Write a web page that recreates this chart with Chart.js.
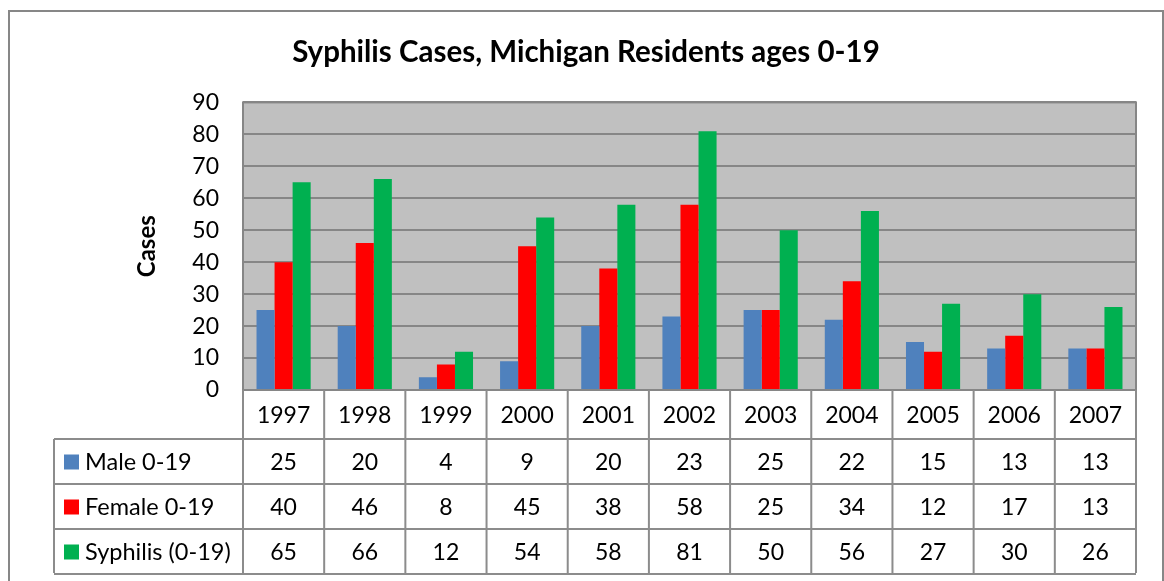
<!DOCTYPE html>
<html><head><meta charset="utf-8">
<script src="https://cdn.jsdelivr.net/npm/chart.js@4"></script>
<style>html,body{margin:0;padding:0;background:#fff}#wrap{width:1164px;height:581px;position:relative}</style>
</head><body><div id="wrap"><canvas id="c" width="1164" height="581"></canvas></div>
<script>
const categories = ['1997','1998','1999','2000','2001','2002','2003','2004','2005','2006','2007'];
const male = [25,20,4,9,20,23,25,22,15,13,13];
const female = [40,46,8,45,38,58,25,34,12,17,13];
const syphilis = [65,66,12,54,58,81,50,56,27,30,26];
const seriesNames = ['Male 0-19','Female 0-19','Syphilis (0-19)'];
const seriesColors = ['#4F81BD','#FF0000','#00B050'];
const yTicks = [0,10,20,30,40,50,60,70,80,90];
const FONT = 'Lato, "Open Sans", sans-serif';

const frame = {
  id:'frame',
  beforeDraw(chart){
    const {ctx, chartArea:a} = chart;
    ctx.save();
    ctx.fillStyle='#fff'; ctx.fillRect(0,0,chart.width,chart.height);
    ctx.strokeStyle='#878787'; ctx.lineWidth=2;
    ctx.strokeRect(9,11,1154,600);
    ctx.fillStyle='#C0C0C0';
    ctx.fillRect(a.left,a.top,a.right-a.left,a.bottom-a.top);
    ctx.restore();
  },
  afterDatasetsDraw(chart){
    const {ctx, chartArea:a, scales:{x}} = chart;
    ctx.save();
    ctx.strokeStyle='#868686'; ctx.lineWidth=2;
    ctx.strokeRect(a.left,a.top,a.right-a.left,a.bottom-a.top);
    const data = [male,female,syphilis];
    const n = categories.length;
    const cw = (a.right-a.left)/n;
    const hTop = a.bottom, hBot = a.bottom+49;
    const rowH = 45;
    const legLeft = 54;
    const tBot = hBot + rowH*3 - 1;
    ctx.lineWidth=2; ctx.strokeStyle='#8C8C8C';
    ctx.beginPath();
    for(let i=0;i<=n;i++){
      const xx = a.left + cw*i;
      ctx.moveTo(xx,hTop); ctx.lineTo(xx,tBot);
    }
    ctx.moveTo(legLeft,hBot); ctx.lineTo(legLeft,tBot);
    for(let r=0;r<=3;r++){
      const yy = hBot + r*rowH;
      ctx.moveTo(legLeft, yy); ctx.lineTo(a.right, yy);
    }
    ctx.stroke();
    ctx.fillStyle='#000';
    ctx.font='23px '+FONT;
    ctx.textAlign='center'; ctx.textBaseline='middle';
    for(let i=0;i<n;i++){
      const cx = x.getPixelForValue(i);
      ctx.fillText(categories[i], cx, (hTop+hBot)/2+1);
      for(let r=0;r<3;r++){
        ctx.fillText(String(data[r][i]), cx, hBot + r*rowH + rowH/2+1);
      }
    }
    ctx.textAlign='left';
    ctx.font='23.5px '+FONT;
    for(let r=0;r<3;r++){
      const cy = hBot + r*rowH + rowH/2;
      ctx.fillStyle=seriesColors[r];
      ctx.fillRect(64, cy-7, 15, 15);
      ctx.fillStyle='#000';
      ctx.fillText(seriesNames[r], 85, cy+1);
    }
    ctx.restore();
  }
};

new Chart(document.getElementById('c'), {
  type:'bar',
  data:{
    labels:categories,
    datasets:[
      {label:seriesNames[0], data:male, backgroundColor:seriesColors[0]},
      {label:seriesNames[1], data:female, backgroundColor:seriesColors[1]},
      {label:seriesNames[2], data:syphilis, backgroundColor:seriesColors[2]}
    ]
  },
  options:{
    responsive:false, animation:false,
    layout:{padding:{left:36,right:28,top:0,bottom:191}},
    datasets:{bar:{categoryPercentage:0.667, barPercentage:1}},
    plugins:{
      legend:{display:false},
      tooltip:{enabled:false},
      title:{display:true, text:'Syphilis Cases, Michigan Residents ages 0-19', color:'#000',
        font:{family:FONT, size:29.5, weight:'bold'}, padding:{top:35, bottom:32}}
    },
    scales:{
      x:{display:false},
      y:{
        min:0, max:90,
        afterBuildTicks(s){ s.ticks = yTicks.map(v=>({value:v})); },
        afterFit(s){ s.width = 207; },
        border:{display:false},
        grid:{color:'#868686', lineWidth:2, drawTicks:false},
        ticks:{color:'#000', padding:24, font:{family:FONT, size:23}},
        title:{display:true, text:'Cases', color:'#000', font:{family:FONT, size:24, weight:'bold'}, padding:{top:97,bottom:0}}
      }
    }
  },
  plugins:[frame]
});
</script></body></html>
